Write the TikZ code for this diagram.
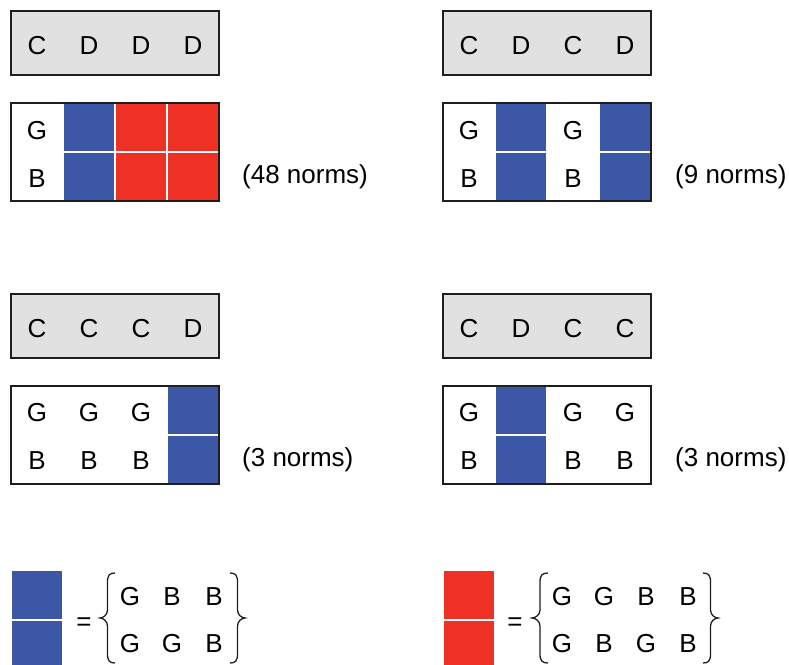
\documentclass[tikz,border=0pt]{standalone}
\usepackage{fontspec}
\setmainfont{Liberation Sans}
\definecolor{cblue}{HTML}{3B57A5}
\definecolor{cred}{HTML}{EE3124}
\definecolor{cgray}{HTML}{E1E1E1}
\definecolor{cline}{HTML}{1E1E1E}
\tikzset{
  lbl/.style={anchor=base, inner sep=0pt, font=\fontsize{26}{30}\selectfont},
  normlbl/.style={anchor=base west, inner sep=0pt, font=\fontsize{26}{30}\selectfont},
  graybox/.style={draw=cline, fill=cgray, line width=1.6pt},
  gridbox/.style={draw=cline, line width=1.6pt},
  bcell/.style={fill=cblue, draw=white, line width=1.5pt},
  rcell/.style={fill=cred, draw=white, line width=1.5pt},
  bracestroke/.style={draw=cline, line width=1.3pt},
}
% #1 grid left x, #2 grid top y, #3 column index (0..3), #4 style
\newcommand\cellpair[4]{%
  \path[#4] ({#1+52*#3}, #2) rectangle ++(52,49);
  \path[#4] ({#1+52*#3}, {#2+49}) rectangle ++(52,49);}
% #1 tip x, #2 end x, #3 top y, #4 bottom y
\newcommand\drawbrace[4]{%
  \draw[bracestroke] (#2,#3) .. controls ({(#1+#2)/2+0.3*(#2-#1)/2},#3) and ({(#1+#2)/2},{#3+2}) .. ({(#1+#2)/2},{#3+9})
    -- ({(#1+#2)/2},{(#3+#4)/2-8})
    .. controls ({(#1+#2)/2},{(#3+#4)/2-3}) and ({#1+0.4*(#2-#1)/2},{(#3+#4)/2}) .. (#1,{(#3+#4)/2})
    .. controls ({#1+0.4*(#2-#1)/2},{(#3+#4)/2}) and ({(#1+#2)/2},{(#3+#4)/2+3}) .. ({(#1+#2)/2},{(#3+#4)/2+8})
    -- ({(#1+#2)/2},{#4-9})
    .. controls ({(#1+#2)/2},{#4-2}) and ({(#1+#2)/2+0.3*(#2-#1)/2},#4) .. (#2,#4);}
\begin{document}
\begin{tikzpicture}[x=1pt,y=-1pt]
\useasboundingbox (0,0) rectangle (789,664);

% ---------- Panel 1 (top left): C D D D ----------
\path[graybox] (11,11) rectangle (219,75);
\node[lbl] (p1c1) at (37,54) {C};
\node[lbl] (p1c2) at (89,54) {D};
\node[lbl] (p1c3) at (141,54) {D};
\node[lbl] (p1c4) at (193,54) {D};
\cellpair{11}{103}{1}{bcell}
\cellpair{11}{103}{2}{rcell}
\cellpair{11}{103}{3}{rcell}
\path[gridbox] (11,103) rectangle (219,201);
\node[lbl] (p1g1) at (37,139) {G};
\node[lbl] (p1b1) at (37,187) {B};
\node[normlbl] (p1n) at (242,183) {(48 norms)};

% ---------- Panel 2 (top right): C D C D ----------
\path[graybox] (443,11) rectangle (651,75);
\node[lbl] (p2c1) at (469,54) {C};
\node[lbl] (p2c2) at (521,54) {D};
\node[lbl] (p2c3) at (573,54) {C};
\node[lbl] (p2c4) at (625,54) {D};
\cellpair{443}{103}{1}{bcell}
\cellpair{443}{103}{3}{bcell}
\path[gridbox] (443,103) rectangle (651,201);
\node[lbl] (p2g1) at (469,139) {G};
\node[lbl] (p2b1) at (469,187) {B};
\node[lbl] (p2g3) at (573,139) {G};
\node[lbl] (p2b3) at (573,187) {B};
\node[normlbl] (p2n) at (675,183) {(9 norms)};

% ---------- Panel 3 (bottom left): C C C D ----------
\path[graybox] (11,294) rectangle (219,358);
\node[lbl] (p3c1) at (37,337) {C};
\node[lbl] (p3c2) at (89,337) {C};
\node[lbl] (p3c3) at (141,337) {C};
\node[lbl] (p3c4) at (193,337) {D};
\cellpair{11}{386}{3}{bcell}
\path[gridbox] (11,386) rectangle (219,484);
\node[lbl] (p3g1) at (37,421) {G};
\node[lbl] (p3b1) at (37,469) {B};
\node[lbl] (p3g2) at (89,421) {G};
\node[lbl] (p3b2) at (89,469) {B};
\node[lbl] (p3g3) at (141,421) {G};
\node[lbl] (p3b3) at (141,469) {B};
\node[normlbl] (p3n) at (242,466) {(3 norms)};

% ---------- Panel 4 (bottom right): C D C C ----------
\path[graybox] (443,294) rectangle (651,358);
\node[lbl] (p4c1) at (469,337) {C};
\node[lbl] (p4c2) at (521,337) {D};
\node[lbl] (p4c3) at (573,337) {C};
\node[lbl] (p4c4) at (625,337) {C};
\cellpair{443}{386}{1}{bcell}
\path[gridbox] (443,386) rectangle (651,484);
\node[lbl] (p4g1) at (469,421) {G};
\node[lbl] (p4b1) at (469,469) {B};
\node[lbl] (p4g3) at (573,421) {G};
\node[lbl] (p4b3) at (573,469) {B};
\node[lbl] (p4g4) at (625,421) {G};
\node[lbl] (p4b4) at (625,469) {B};
\node[normlbl] (p4n) at (675,466) {(3 norms)};

% ---------- Legend: blue ----------
\path[bcell] (11,570) rectangle (63,620);
\path[bcell] (11,620) rectangle (63,670);
\node[lbl] (leq1) at (84,630) {=};
\drawbrace{100}{115}{573}{663}
\node[lbl] (lb11) at (130,605) {G};
\node[lbl] (lb12) at (172,605) {B};
\node[lbl] (lb13) at (214,605) {B};
\node[lbl] (lb21) at (130,652) {G};
\node[lbl] (lb22) at (172,652) {G};
\node[lbl] (lb23) at (214,652) {B};
\drawbrace{245}{230}{573}{663}

% ---------- Legend: red ----------
\path[rcell] (443,570) rectangle (495,620);
\path[rcell] (443,620) rectangle (495,670);
\node[lbl] (leq2) at (515,630) {=};
\drawbrace{532}{548}{573}{663}
\node[lbl] (lr11) at (562,605) {G};
\node[lbl] (lr12) at (604,605) {G};
\node[lbl] (lr13) at (646,605) {B};
\node[lbl] (lr14) at (688,605) {B};
\node[lbl] (lr21) at (562,652) {G};
\node[lbl] (lr22) at (604,652) {B};
\node[lbl] (lr23) at (646,652) {G};
\node[lbl] (lr24) at (688,652) {B};
\drawbrace{718}{703}{573}{663}
\end{tikzpicture}
\end{document}
